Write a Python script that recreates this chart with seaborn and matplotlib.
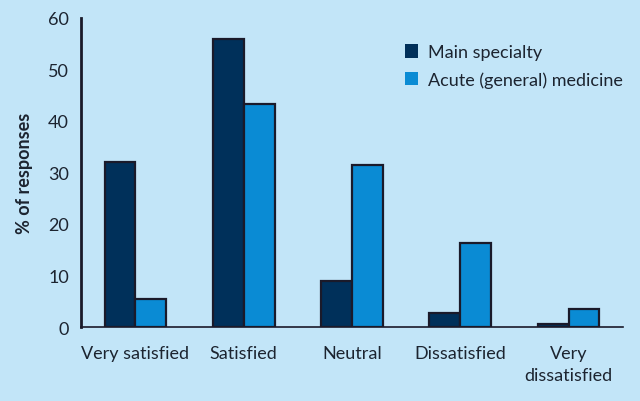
import matplotlib
matplotlib.use("Agg")
import matplotlib.pyplot as plt
import seaborn as sns
import pandas as pd
from matplotlib.ticker import FixedLocator

categories = ["Very satisfied", "Satisfied", "Neutral", "Dissatisfied", "Very\ndissatisfied"]
series = ["Main specialty", "Acute (general) medicine"]
main_specialty = [32.0, 56.0, 9.0, 2.7, 0.5]
acute_medicine = [5.5, 43.3, 31.5, 16.3, 3.5]
y_ticks = [0, 10, 20, 30, 40, 50, 60]

bg = "#c2e5f8"
dark = "#00305a"
light = "#0a8bd4"
edge = "#1a1a2a"
text_col = "#1c2430"

df = pd.DataFrame({
    "category": categories * 2,
    "value": main_specialty + acute_medicine,
    "series": [series[0]] * len(categories) + [series[1]] * len(categories),
})

sns.set_style("white")
plt.rcParams["font.family"] = ["Lato", "DejaVu Sans"]

fig = plt.figure(figsize=(6.4, 4.02), dpi=100, facecolor=bg)
ax = fig.add_axes([0.127, 0.184, 0.846, 0.769])
ax.set_facecolor(bg)

sns.barplot(data=df, x="category", y="value", hue="series", order=categories,
            hue_order=series, palette=[dark, light], width=0.57,
            edgecolor=edge, linewidth=1.6, ax=ax, saturation=1)

ax.set_xlim(-0.5, 4.5)
ax.set_ylim(0, 60)
ax.set_yticks(y_ticks)
ax.set_yticklabels([str(t) for t in y_ticks], fontsize=13, color=text_col)
ax.set_xticks(range(len(categories)))
ax.set_xticklabels(categories, fontsize=13, color=text_col, linespacing=1.45)
ax.tick_params(axis="x", which="major", length=0, pad=13)
ax.xaxis.set_minor_locator(FixedLocator([i - 0.5 for i in range(len(categories) + 1)]))
ax.tick_params(axis="x", which="minor", length=5, width=1.2, color=edge, direction="out")
ax.tick_params(axis="y", which="major", length=6, width=1.8, color=edge, direction="out", pad=3)

ax.set_xlabel("")
ax.set_ylabel("% of responses", fontsize=13, fontweight="bold", color=text_col, labelpad=11)

for s in ["top", "right"]:
    ax.spines[s].set_visible(False)
ax.spines["left"].set_color(edge)
ax.spines["left"].set_linewidth(2.0)
ax.spines["bottom"].set_color(edge)
ax.spines["bottom"].set_linewidth(1.2)

leg = ax.legend(loc="upper left", bbox_to_anchor=(0.567, 0.967), frameon=False,
                fontsize=13, handlelength=0.75, handleheight=0.75, handletextpad=0.55,
                labelspacing=0.6, labelcolor=text_col)
for h in leg.legend_handles:
    h.set_edgecolor("none")

fig.savefig("out.png", dpi=100, facecolor=bg)
